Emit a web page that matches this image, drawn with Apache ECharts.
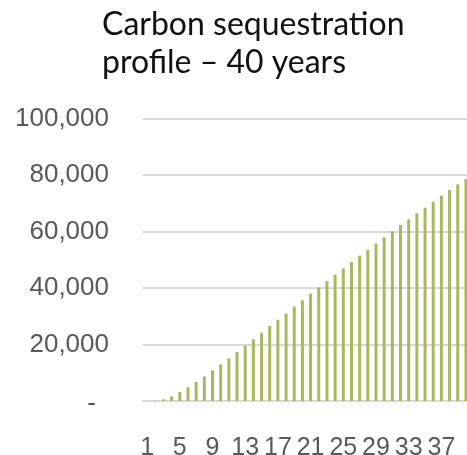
<!DOCTYPE html>
<html><head><meta charset="utf-8">
<script src="https://cdn.jsdelivr.net/npm/echarts@6/dist/echarts.min.js"></script>
<style>html,body{margin:0;padding:0;background:#fff}#c{width:467px;height:455px}</style>
</head><body><div id="c"></div>
<script>
const titleText = 'Carbon sequestration\nprofile – 40 years';
const years = [];
for (let i = 1; i <= 40; i++) years.push(String(i));
const sequestration = [0, 150, 590, 1650, 3190, 4840, 6730, 8730, 10860, 12980,
  15100, 17350, 19590, 21830, 24190, 26550, 28790, 31030, 33390, 35630,
  38000, 40240, 42480, 44720, 46960, 49200, 51450, 53570, 55810, 57930,
  60060, 62300, 64310, 66430, 68440, 70560, 72680, 74690, 76700, 78580];
const yTicks = [0, 20000, 40000, 60000, 80000, 100000];

const chart = echarts.init(document.getElementById('c'), null, {renderer: 'canvas'});
chart.setOption({
  animation: false,
  title: {
    text: titleText,
    left: 97, top: 1,
    textStyle: {fontFamily: 'Lato', fontSize: 32, fontWeight: 'normal', color: '#111', lineHeight: 38}
  },
  grid: {left: 143, right: -3, top: 118.5, bottom: 54, containLabel: false, outerBoundsMode: 'none'},
  xAxis: {
    type: 'category', data: years,
    axisLine: {show: true, lineStyle: {color: '#d9d9d9', width: 2}},
    axisTick: {show: false},
    axisLabel: {interval: 3, margin: 35, color: '#595959', fontFamily: 'Liberation Sans', fontSize: 25}
  },
  yAxis: {
    type: 'value', min: yTicks[0], max: yTicks[yTicks.length - 1], interval: 20000,
    axisLine: {show: false}, axisTick: {show: false},
    splitLine: {lineStyle: {color: '#d9d9d9', width: 2}},
    axisLabel: {
      margin: 34, color: '#595959', fontFamily: 'Liberation Sans', fontSize: 26,
      formatter: v => v === 0 ? '{z|-}' : v.toLocaleString('en-US'),
      rich: {z: {padding: [6, 13, 0, 0], fontSize: 26, fontFamily: 'Liberation Sans', color: '#595959'}}
    }
  },
  series: [{
    type: 'bar', data: sequestration, barWidth: 3,
    itemStyle: {color: '#abb760'}
  }]
});
</script></body></html>
